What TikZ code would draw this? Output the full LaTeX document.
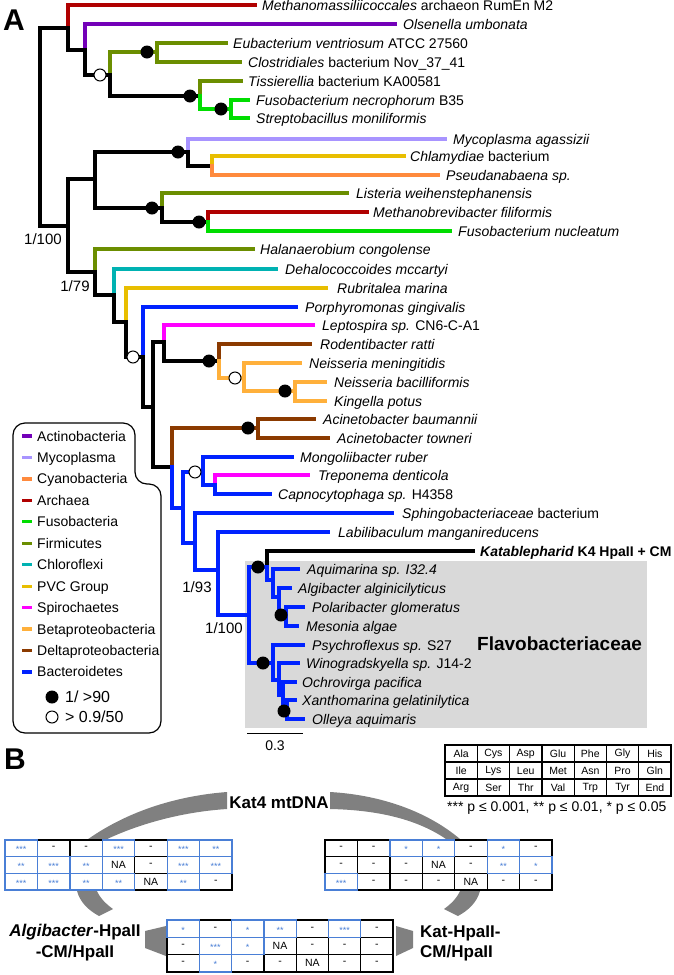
\documentclass[tikz,border=0pt]{standalone}
\usepackage{fontspec}
\setmainfont{Liberation Sans}
\definecolor{archaea}{HTML}{B00000}
\definecolor{actino}{HTML}{7300B8}
\definecolor{myco}{HTML}{A894FF}
\definecolor{cyano}{HTML}{FF8A3D}
\definecolor{fuso}{HTML}{00DD00}
\definecolor{firm}{HTML}{6B8E00}
\definecolor{chloro}{HTML}{00B2B2}
\definecolor{pvc}{HTML}{E8BE00}
\definecolor{spiro}{HTML}{FF00FF}
\definecolor{beta}{HTML}{FFB03B}
\definecolor{delta}{HTML}{8B3A00}
\definecolor{bact}{HTML}{0022FF}
\definecolor{boxgrey}{HTML}{D9D9D9}
\definecolor{arcgrey}{HTML}{808080}
\definecolor{tblue}{HTML}{4A7FD6}
\newcommand\mytabrow[5]{%
  \foreach \cv/\cb [count=\cc from 0] in {#5}{%
    \ifnum\cb=1
      \node[cellt, text=tblue, font=\fontsize{9}{9}\selectfont] at (#1+\cc*#3+#3/2, #2+#4/2+1.5) {\cv};
    \else
      \node[cellt] at (#1+\cc*#3+#3/2, #2+#4/2) {\cv};
    \fi
    \draw[tline] (#1+\cc*#3, #2) rectangle ++(#3, #4);
  }}
\newcommand\mytabblue[5]{%
  \foreach \cv/\cb [count=\cc from 0] in {#5}{%
    \ifnum\cb=1
      \draw[tline, draw=tblue] (#1+\cc*#3, #2) rectangle ++(#3, #4);
    \fi
  }}
\begin{document}
\begin{tikzpicture}[x=1pt,y=-1pt,
  br/.style={line width=3.2pt, line cap=rect, line join=miter},
  lab/.style={anchor=west, inner sep=0pt, text height=10pt, text depth=0pt, font=\fontsize{14}{16}\selectfont},
  leg/.style={anchor=west, inner sep=0pt, text height=10pt, text depth=0pt, font=\fontsize{14}{16}\selectfont},
  sup/.style={inner sep=0pt, font=\fontsize{15}{17}\selectfont},
  fdot/.style={fill=black, circle, inner sep=0pt, minimum size=13pt},
  odot/.style={fill=white, draw=black, line width=1pt, circle, inner sep=0pt, minimum size=12pt},
  cellt/.style={inner sep=0pt, font=\fontsize{10.5}{11}\selectfont},
  tline/.style={line width=1.3pt, draw=black},
  bigl/.style={inner sep=0pt, font=\fontsize{30}{30}\selectfont\bfseries},
  blab/.style={inner sep=0pt, font=\fontsize{17}{20}\selectfont\bfseries}]
\useasboundingbox (0,0) rectangle (673,975);
% panel labels
\node[bigl] (pA) at (14,20) {A};
\node[bigl] (pB) at (15,759) {B};
% grey box
\fill[boxgrey] (245,561) rectangle (647,728);
\node[anchor=west, inner sep=0pt, font=\fontsize{19}{20}\selectfont\bfseries] (flavo) at (477,644) {Flavobacteriaceae};
% ---------- tree ----------
\draw[br] (68,28) -- (40,28) -- (40,226) -- (68,226);
% top clade
\draw[br,archaea] (68,28) |- (255,5);
\node[lab] (t1) at (262,5) {\textit{Methanomassiliicoccales} archaeon RumEn M2};
\draw[br] (68,28) |- (85,50);
\draw[br,actino] (85,50) |- (395,24);
\node[lab] (t2) at (403,24) {\textit{Olsenella umbonata}};
\draw[br] (85,50) |- (110,75);
\draw[br,firm] (110,75) |- (157,52);
\draw[br,firm] (157,52) |- (226,43);
\node[lab] (t3) at (233,43) {\textit{Eubacterium ventriosum} ATCC 27560};
\draw[br,firm] (157,52) |- (240,62);
\node[lab] (t4) at (248,62) {\textit{Clostridiales} bacterium Nov\_37\_41};
\draw[br] (110,75) |- (200,96);
\draw[br,firm] (200,96) |- (241,81);
\node[lab] (t5) at (248,81) {\textit{Tissierellia} bacterium KA00581};
\draw[br,fuso] (200,96) |- (231,109);
\draw[br,fuso] (231,109) |- (248,100);
\node[lab] (t6) at (256,100) {\textit{Fusobacterium necrophorum} B35};
\draw[br,fuso] (231,109) |- (248,118);
\node[lab] (t7) at (256,118) {\textit{Streptobacillus moniliformis}};
\node[odot] (d1) at (100,75) {};
\node[fdot] (d2) at (147,52) {};
\node[fdot] (d3) at (190,96) {};
\node[fdot] (d4) at (221,109) {};
% clade C
\draw[br] (68,226) |- (95,179);
\draw[br] (95,179) |- (188,152);
\draw[br,myco] (188,152) |- (445,139);
\node[lab] (t8) at (453,139) {\textit{Mycoplasma agassizii}};
\draw[br] (188,152) |- (212,166);
\draw[br,pvc] (212,166) |- (404,156);
\node[lab] (t9) at (410,156) {\textit{Chlamydiae} bacterium};
\draw[br,cyano] (212,166) |- (438,175);
\node[lab] (t10) at (446,175) {\textit{Pseudanabaena sp.}};
\draw[br] (95,179) |- (162,208);
\draw[br,firm] (162,208) |- (347,193);
\node[lab] (t11) at (356,193) {\textit{Listeria weihenstephanensis}};
\draw[br] (162,208) |- (208,222);
\draw[br,archaea] (208,222) |- (367,212);
\node[lab] (t12) at (373,212) {\textit{Methanobrevibacter filiformis}};
\draw[br,fuso] (208,222) |- (450,231);
\node[lab] (t13) at (458,231) {\textit{Fusobacterium nucleatum}};
\node[fdot] (d5) at (178,152) {};
\node[fdot] (d6) at (152,208) {};
\node[fdot] (d7) at (199,222) {};
\node[sup] (s1) at (43,239) {1/100};
% clade D
\draw[br] (68,226) |- (95,272);
\draw[br,firm] (95,272) |- (253,249);
\node[lab] (t14) at (260,249) {\textit{Halanaerobium congolense}};
\draw[br] (95,272) |- (114,295);
\draw[br,chloro] (114,295) |- (276,269);
\node[lab] (t15) at (285,269) {\textit{Dehalococcoides mccartyi}};
\draw[br] (114,295) |- (126,322);
\draw[br,pvc] (126,322) |- (326,288);
\node[lab] (t16) at (337,288) {\textit{Rubritalea marina}};
\draw[br] (126,322) |- (143,357);
\draw[br,bact] (143,357) |- (296,307);
\node[lab] (t17) at (305,307) {\textit{Porphyromonas gingivalis}};
\draw[br] (143,357) |- (153,407);
\draw[br] (153,407) |- (164,342);
\draw[br,spiro] (164,342) |- (313,325);
\node[lab] (t18) at (322,325) {\textit{Leptospira sp.} CN6-C-A1};
\draw[br] (164,342) |- (219,361);
\draw[br,delta] (219,361) |- (310,344);
\node[lab] (t19) at (320,344) {\textit{Rodentibacter ratti}};
\draw[br,beta] (219,361) |- (244,378);
\draw[br,beta] (244,378) |- (300,363);
\node[lab] (t20) at (309,363) {\textit{Neisseria meningitidis}};
\draw[br,beta] (244,378) |- (295,391);
\draw[br,beta] (295,391) |- (325,382);
\node[lab] (t21) at (334,382) {\textit{Neisseria bacilliformis}};
\draw[br,beta] (295,391) |- (325,401);
\node[lab] (t22) at (334,401) {\textit{Kingella potus}};
\draw[br] (153,407) |- (172,467);
\draw[br,delta] (172,467) |- (258,428);
\draw[br,delta] (258,428) |- (314,419);
\node[lab] (t23) at (323,419) {\textit{Acinetobacter baumannii}};
\draw[br,delta] (258,428) |- (328,438);
\node[lab] (t24) at (337,438) {\textit{Acinetobacter towneri}};
\draw[br,bact] (172,467) |- (183,508);
\draw[br,bact] (183,508) |- (203,472);
\draw[br,bact] (203,472) |- (292,457);
\node[lab] (t25) at (300,457) {\textit{Mongoliibacter ruber}};
\draw[br,bact] (203,472) |- (215,485);
\draw[br,spiro] (215,485) |- (308,475);
\node[lab] (t26) at (318,475) {\textit{Treponema denticola}};
\draw[br,bact] (215,485) |- (270,494);
\node[lab] (t27) at (278,494) {\textit{Capnocytophaga sp.} H4358};
\draw[br,bact] (183,508) |- (195,543);
\draw[br,bact] (195,543) |- (392,513);
\node[lab] (t28) at (402,513) {\textit{Sphingobacteriaceae} bacterium};
\draw[br,bact] (195,543) |- (218,570);
\draw[br,bact] (218,570) |- (328,532);
\node[lab] (t29) at (338,532) {\textit{Labilibaculum manganireducens}};
\draw[br,bact] (218,570) |- (249,615);
\node[sup] (s3) at (197,587) {1/93};
% Flavobacteriaceae
\draw[br,bact] (249,615) |- (267,567);
\draw[br] (267,567) |- (473,551);
\node[lab, font=\fontsize{14}{16}\selectfont\bfseries] (t30) at (480,551) {\textit{Katablepharid} K4 HpaII + CM};
\draw[br,bact] (267,567) |- (273,580);
\draw[br,bact] (273,580) |- (298,569);
\node[lab] (t31) at (307,569) {\textit{Aquimarina sp. I32.4}};
\draw[br,bact] (273,580) |- (279,597);
\draw[br,bact] (279,597) |- (290,588);
\node[lab] (t32) at (298,588) {\textit{Algibacter alginicilyticus}};
\draw[br,bact] (279,597) |- (286,615);
\draw[br,bact] (286,615) |- (303,607);
\node[lab] (t33) at (312,607) {\textit{Polaribacter glomeratus}};
\draw[br,bact] (286,615) |- (297,626);
\node[lab] (t34) at (306,626) {\textit{Mesonia algae}};
\draw[br,bact] (249,615) |- (273,663);
\draw[br,bact] (273,663) |- (303,645);
\node[lab] (t35) at (312,645) {\textit{Psychroflexus sp.} S27};
\draw[br,bact] (273,663) |- (279,680);
\draw[br,bact] (279,680) |- (298,663);
\node[lab] (t36) at (306,663) {\textit{Winogradskyella sp.} J14-2};
\draw[br,bact] (279,680) |- (283,695);
\draw[br,bact] (283,695) |- (295,682);
\node[lab] (t37) at (302,682) {\textit{Ochrovirga pacifica}};
\draw[br,bact] (283,695) |- (287,710);
\draw[br,bact] (287,710) |- (295,700);
\node[lab] (t38) at (302,700) {\textit{Xanthomarina gelatinilytica}};
\draw[br,bact] (287,710) |- (303,719);
\node[lab] (t39) at (312,719) {\textit{Olleya aquimaris}};
\node[sup] (s4) at (224,628) {1/100};
\node[fdot] (d8) at (258,567) {};
\node[fdot] (d9) at (281,615) {};
\node[fdot] (d10) at (263,663) {};
\node[fdot] (d11) at (284,711) {};
\node[sup] (s2) at (75,286) {1/79};
\node[odot] (d12) at (133,357) {};
\node[fdot] (d13) at (209,361) {};
\node[odot] (d14) at (235,378) {};
\node[fdot] (d15) at (285,391) {};
\node[fdot] (d16) at (248,428) {};
\node[odot] (d17) at (195,472) {};
% scale bar
\coordinate (sb1) at (247,733);
\coordinate (sb2) at (303,733);
\draw[line width=1pt] (sb1) -- (sb2);
\node[inner sep=0pt, font=\fontsize{14}{16}\selectfont] (sbl) at (275,746) {0.3};
% ---------- legend ----------
\draw[line width=1.2pt, rounded corners=12pt] (13,423) -- (135,423) -- (135,484) -- (161,484) -- (161,733) -- (13,733) -- cycle;
\foreach \c/\n [count=\i from 0] in {actino/Actinobacteria, myco/Mycoplasma, cyano/Cyanobacteria, archaea/Archaea, fuso/Fusobacteria, firm/Firmicutes, chloro/Chloroflexi, pvc/PVC Group, spiro/Spirochaetes, beta/Betaproteobacteria, delta/Deltaproteobacteria, bact/Bacteroidetes}{
  \draw[line width=3.2pt, \c] (22,436+21.45*\i) -- (32,436+21.45*\i);
  \node[leg] (lg\i) at (37,436+21.45*\i) {\n};
}
\node[fdot] (lgd1) at (52,697) {};
\node[anchor=west, inner sep=0pt, font=\fontsize{16}{18}\selectfont] (lgt1) at (65,697) {1/ >90};
\node[odot] (lgd2) at (52,717) {};
\node[anchor=west, inner sep=0pt, font=\fontsize{16}{18}\selectfont] (lgt2) at (65,717) {> 0.9/50};
% ---------- panel B ----------
\fill[arcgrey] (84,842) .. controls (125,812) and (175,796) .. (227,792) -- (227,809) .. controls (180,812) and (135,825) .. (101,842) -- cycle;
\fill[arcgrey] (330,792) .. controls (382,795) and (428,812) .. (460,839) -- (446,839) .. controls (418,820) and (380,810) .. (330,809) -- cycle;
\fill[arcgrey] (77,891) .. controls (80,902) and (88,910) .. (99,916) -- (113,909) .. controls (106,904) and (100,898) .. (97,891) -- cycle;
\fill[arcgrey] (480,891) .. controls (477,902) and (469,910) .. (458,916) -- (444,909) .. controls (451,904) and (457,898) .. (460,891) -- cycle;
\fill[arcgrey] (145,931) -- (166,926) -- (166,956) -- (145,948) -- cycle;
\fill[arcgrey] (413,931) -- (396,926) -- (396,956) -- (413,948) -- cycle;
\node[blab] (kat4) at (279,803) {Kat4 mtDNA};
\node[blab, align=center, font=\fontsize{17}{21}\selectfont\bfseries] (algi) at (75,943) {\textit{Algibacter}-HpaII\\-CM/HpaII};
\node[blab, align=left, anchor=west, font=\fontsize{17}{20}\selectfont\bfseries] (kathp) at (420,943) {Kat-HpaII-\\CM/HpaII};
% left table
\fill[white] (5,840) rectangle (232,890);
\mytabrow{5}{840}{32.43}{16.67}{***/1, -/0, -/0, ***/1, -/0, ***/1, **/1}
\mytabrow{5}{856.67}{32.43}{16.67}{**/1, ***/1, **/1, NA/0, -/0, ***/1, ***/1}
\mytabrow{5}{873.33}{32.43}{16.67}{***/1, ***/1, **/1, **/1, NA/0, **/1, -/0}
\mytabblue{5}{840}{32.43}{16.67}{***/1, -/0, -/0, ***/1, -/0, ***/1, **/1}
\mytabblue{5}{856.67}{32.43}{16.67}{**/1, ***/1, **/1, NA/0, -/0, ***/1, ***/1}
\mytabblue{5}{873.33}{32.43}{16.67}{***/1, ***/1, **/1, **/1, NA/0, **/1, -/0}
% right table
\fill[white] (325,840) rectangle (552,890);
\mytabrow{325}{840}{32.43}{16.67}{-/0, -/0, */1, */1, -/0, */1, -/0}
\mytabrow{325}{856.67}{32.43}{16.67}{-/0, -/0, -/0, NA/0, -/0, **/1, */1}
\mytabrow{325}{873.33}{32.43}{16.67}{***/1, -/0, -/0, -/0, NA/0, -/0, -/0}
\mytabblue{325}{840}{32.43}{16.67}{-/0, -/0, */1, */1, -/0, */1, -/0}
\mytabblue{325}{856.67}{32.43}{16.67}{-/0, -/0, -/0, NA/0, -/0, **/1, */1}
\mytabblue{325}{873.33}{32.43}{16.67}{***/1, -/0, -/0, -/0, NA/0, -/0, -/0}
% bottom table
\fill[white] (167,920) rectangle (393,972);
\mytabrow{167}{920}{32.29}{17.33}{*/1, -/0, */1, **/1, -/0, ***/1, -/0}
\mytabrow{167}{937.33}{32.29}{17.33}{-/0, ***/1, */1, NA/0, -/0, -/0, -/0}
\mytabrow{167}{954.67}{32.29}{17.33}{-/0, */1, -/0, -/0, NA/0, -/0, -/0}
\mytabblue{167}{920}{32.29}{17.33}{*/1, -/0, */1, **/1, -/0, ***/1, -/0}
\mytabblue{167}{937.33}{32.29}{17.33}{-/0, ***/1, */1, NA/0, -/0, -/0, -/0}
\mytabblue{167}{954.67}{32.29}{17.33}{-/0, */1, -/0, -/0, NA/0, -/0, -/0}
% amino acid table
\mytabrow{445}{745}{32.29}{17}{Ala/0, Cys/0, Asp/0, Glu/0, Phe/0, Gly/0, His/0}
\mytabrow{445}{762}{32.29}{17}{Ile/0, Lys/0, Leu/0, Met/0, Asn/0, Pro/0, Gln/0}
\mytabrow{445}{779}{32.29}{17}{Arg/0, Ser/0, Thr/0, Val/0, Trp/0, Tyr/0, End/0}
\node[anchor=west, inner sep=0pt, font=\fontsize{14}{16}\selectfont] (pleg) at (447,808) {*** p ≤ 0.001, ** p ≤ 0.01, * p ≤ 0.05};
\end{tikzpicture}
\end{document}
